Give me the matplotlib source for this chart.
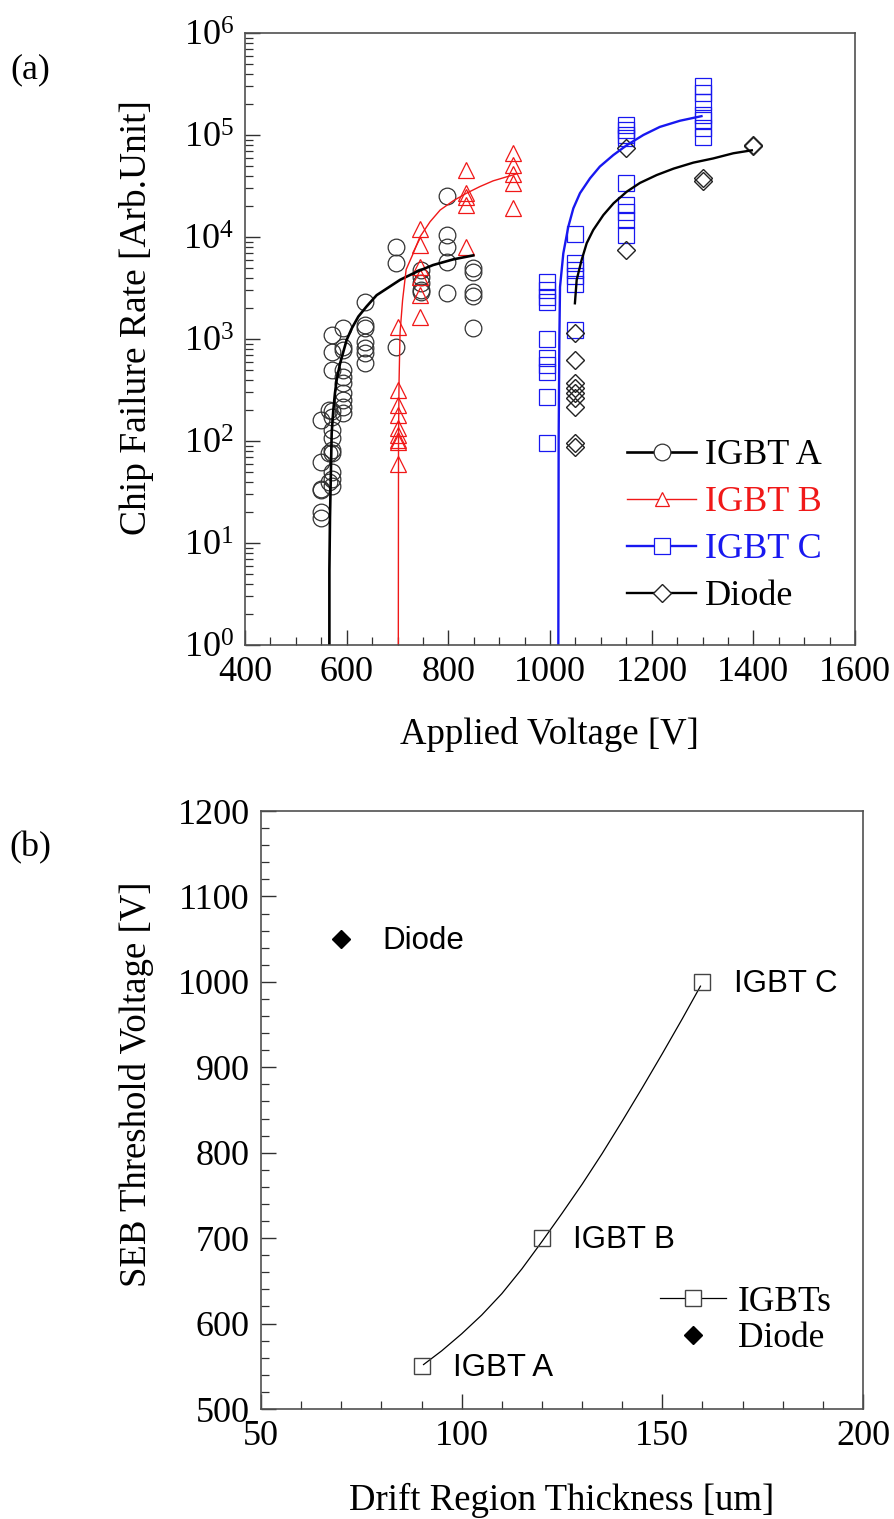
import math
import matplotlib
matplotlib.use('Agg')
import matplotlib.pyplot as plt
from matplotlib.lines import Line2D
from matplotlib.ticker import MultipleLocator, LogLocator, FuncFormatter, NullFormatter

matplotlib.rcParams['font.family'] = ['Liberation Serif', 'DejaVu Serif']
matplotlib.rcParams['mathtext.fontset'] = 'custom'
matplotlib.rcParams['mathtext.rm'] = 'Liberation Serif'
matplotlib.rcParams['font.size'] = 24

# ---- (a) measured failure rates ----
igbt_a_v = [550, 550, 550, 550, 550, 550,
            565, 565, 565,
            572, 572, 572, 572, 572, 572, 572, 572, 572, 572, 572, 572,
            593, 593, 593, 593, 593, 593, 593, 593, 593, 593,
            636, 636, 636, 636, 636, 636, 636,
            697, 697, 697,
            746, 746, 746, 746, 746,
            797, 797, 797, 797, 797,
            849, 849, 849, 849, 849]
igbt_a_rate = [160, 62, 34, 33, 20, 17.5,
               200, 76, 40,
               1090, 750, 500, 195, 173, 128, 106, 81, 76, 50, 42, 36,
               1270, 840, 780, 500, 425, 370, 295, 252, 217, 187,
               2320, 1370, 1270, 940, 810, 725, 580,
               8000, 5600, 840,
               4700, 4080, 3530, 3020, 2900,
               25300, 10500, 8000, 5720, 2800,
               5000, 4500, 2900, 2650, 1270]

igbt_b_v = [700, 700, 700, 700, 700, 700, 700, 700, 700,
            745, 745, 745, 745, 745, 745,
            835, 835, 835, 835, 835,
            928, 928, 928, 928, 928]
igbt_b_rate = [1320, 316, 225, 180, 133, 115, 102, 98, 60,
               11900, 8300, 5100, 4080, 2700, 1650,
               45400, 26800, 24800, 20600, 8000,
               66000, 50800, 41400, 33600, 19400]

igbt_c_v = [995, 995, 995, 995, 995, 995, 995, 995, 995, 995,
            1050, 1050, 1050, 1050, 1050, 1050,
            1150, 1150, 1150, 1150, 1150, 1150, 1150, 1150, 1150,
            1300, 1300, 1300, 1300, 1300, 1300, 1300]
igbt_c_rate = [3600, 3000, 2600, 2300, 1000, 650, 556, 476, 271, 95,
               10800, 5500, 4700, 4100, 3500, 1230,
               125000, 112000, 100000, 93000, 34000, 20600, 17700, 14700, 10500,
               300000, 256000, 210000, 157000, 140000, 116000, 96000]

diode_v = [1050, 1050, 1050, 1050, 1050, 1050, 1050, 1050, 1050,
           1150, 1150, 1300, 1300, 1400, 1400]
diode_rate = [1135, 620, 370, 330, 295, 263, 217, 95, 88,
              74000, 7500, 37600, 35600, 80000, 78000]

# fitted curves (points read along the drawn fits)
fit_a_v = [566, 566, 567.2, 570.5, 573.7, 577, 580.4, 587, 600, 610, 623, 639,
           659, 705, 738, 770, 810, 849]
fit_a_rate = [1, 5.4, 18, 119, 200, 295, 398, 575, 980, 1270, 1660, 2080,
              2690, 3800, 4570, 5310, 6040, 6600]
fit_b_v = [701.6, 702, 703, 705, 710, 717, 731, 744, 764, 784, 810, 836, 862, 888, 935]
fit_b_rate = [1, 100, 370, 1150, 2400, 4800, 6920, 10000, 14100, 18400, 22700,
              26900, 31200, 35500, 41700]
fit_c_v = [1016.4, 1017, 1018.4, 1019.7, 1026.2, 1036, 1045.9, 1059, 1078.7,
           1098, 1124.6, 1151, 1183.6, 1216, 1255.7, 1298]
fit_c_rate = [1, 100, 980, 3240, 6920, 12600, 19100, 26900, 37600,
              49000, 63600, 79400, 100000, 120000, 138000, 153000]
fit_d_v = [1049, 1052.5, 1062, 1072.2, 1085, 1104.9, 1125, 1150.9, 1177, 1209.9,
           1243, 1282, 1321, 1360.6, 1397]
fit_d_rate = [2240, 3800, 5900, 8700, 11700, 16400, 21400, 27800, 33900, 40500,
              46800, 53600, 58900, 66200, 70800]

# ---- (b) SEB threshold ----
igbt_thick = [90, 120, 160]
igbt_seb = [550, 700, 1000]
igbt_names = ['IGBT A', 'IGBT B', 'IGBT C']
diode_thick = [70]
diode_seb = [1050]
fit_thick = [90.5, 95, 100, 105, 110, 115, 120, 125, 130, 135, 140, 145, 150, 155, 159.5]
fit_seb = [552, 568, 588, 610, 635, 664, 696, 729, 763, 799, 837, 876, 916, 957, 995]

RED = '#f01818'
BLUE = '#1818f0'

fig = plt.figure(figsize=(8.94, 15.19), dpi=100)

# ================= (a) =================
ax1 = fig.add_axes([245/894, 1-645/1519, 610/894, 612/1519])
ms = 12
ax1.plot(igbt_a_v, igbt_a_rate, 'o', ms=ms, mfc='none', mec='#333333', mew=0.9)
ax1.plot(igbt_b_v, igbt_b_rate, '^', ms=ms, mfc='none', mec=RED, mew=0.9)
ax1.plot(igbt_c_v, igbt_c_rate, 's', ms=ms*0.95, mfc='none', mec=BLUE, mew=0.9)
ax1.plot(diode_v, diode_rate, 'D', ms=ms*0.75, mfc='none', mec='#222222', mew=1.0)

ax1.plot(fit_a_v, fit_a_rate, '-', color='black', lw=1.9)
ax1.plot(fit_b_v, fit_b_rate, '-', color=RED, lw=1.0)
ax1.plot(fit_c_v, fit_c_rate, '-', color=BLUE, lw=1.7)
ax1.plot(fit_d_v, fit_d_rate, '-', color='black', lw=1.7)

ax1.set_yscale('log')
ax1.set_xlim(400, 1600)
ax1.set_ylim(1, 1e6)
ax1.xaxis.set_major_locator(MultipleLocator(200))
ax1.xaxis.set_minor_locator(MultipleLocator(50))
ax1.yaxis.set_major_locator(LogLocator(base=10, numticks=10))
ax1.yaxis.set_minor_locator(LogLocator(base=10, subs=range(2, 10), numticks=10))
ax1.yaxis.set_minor_formatter(NullFormatter())
ax1.yaxis.set_major_formatter(FuncFormatter(lambda v, p: r'$\mathregular{10^{%d}}$' % round(math.log10(v))))

handles = [
    Line2D([], [], color='black', lw=1.9, marker='o', ms=ms, mfc='white', mec='#333333', mew=0.9),
    Line2D([], [], color=RED, lw=1.0, marker='^', ms=ms*0.8, mfc='white', mec=RED, mew=0.9),
    Line2D([], [], color=BLUE, lw=1.7, marker='s', ms=ms*0.95, mfc='white', mec=BLUE, mew=0.9),
    Line2D([], [], color='black', lw=1.7, marker='D', ms=ms*0.75, mfc='white', mec='#222222', mew=1.0),
]
ax1.legend(handles, ['IGBT A', 'IGBT B', 'IGBT C', 'Diode'], loc='lower right',
           bbox_to_anchor=(0.975, 0.022), frameon=False, fontsize=26,
           handlelength=1.9, handletextpad=0.25, labelspacing=0.38, borderpad=0,
           labelcolor=['black', RED, BLUE, 'black'])

fig.text(137/894, 1-318/1519, 'Chip Failure Rate [Arb.Unit]', rotation=90,
         ha='center', va='center', fontsize=27)
fig.text(549/894, 1-735/1519, 'Applied Voltage [V]', ha='center', va='center', fontsize=26.5)
fig.text(30/894, 1-70/1519, '(a)', ha='center', va='center', fontsize=26)

# ================= (b) =================
ax2 = fig.add_axes([261/894, 1-1409/1519, 602/894, 598/1519])
ax2.plot(fit_thick, fit_seb, '-', color='black', lw=0.9)
ax2.plot(igbt_thick, igbt_seb, 's', ms=11, mfc='none', mec='#444444', mew=1.0)
ax2.plot(diode_thick, diode_seb, 'D', ms=9, color='black')

for t, s, n in zip(igbt_thick, igbt_seb, igbt_names):
    ax2.text(t + 7.8, s - 2, n, family=['Liberation Sans', 'DejaVu Sans'],
             fontsize=22.5, ha='left', va='center')
ax2.text(diode_thick[0] + 10.3, diode_seb[0] - 2, 'Diode', family=['Liberation Sans', 'DejaVu Sans'],
         fontsize=22.5, ha='left', va='center')

ax2.set_xlim(50, 200)
ax2.set_ylim(500, 1200)
ax2.xaxis.set_major_locator(MultipleLocator(50))
ax2.xaxis.set_minor_locator(MultipleLocator(10))
ax2.yaxis.set_major_locator(MultipleLocator(100))
ax2.yaxis.set_minor_locator(MultipleLocator(20))

h2 = [Line2D([], [], color='black', lw=0.9, marker='s', ms=11, mfc='white', mec='#444444', mew=1.0),
      Line2D([], [], color='none', marker='D', ms=9, mfc='black', mec='black')]
ax2.legend(h2, ['IGBTs', 'Diode'], loc='lower right', bbox_to_anchor=(0.978, 0.06),
           frameon=False, fontsize=25.5, handlelength=1.85, handletextpad=0.35,
           labelspacing=0.1, borderpad=0)

fig.text(137/894, 1-1084/1519, 'SEB Threshold Voltage [V]', rotation=90,
         ha='center', va='center', fontsize=26.5)
fig.text(562/894, 1-1500/1519, 'Drift Region Thickness [um]', ha='center', va='center', fontsize=26.5)
fig.text(30/894, 1-848/1519, '(b)', ha='center', va='center', fontsize=26)

for ax in (ax1, ax2):
    for sp in ax.spines.values():
        sp.set_color('#505050')
        sp.set_linewidth(1.2)
    ax.tick_params(which='both', direction='in', top=False, right=False, color='#303030',
                   labelsize=26)
    ax.tick_params(which='major', length=11, width=1.0, pad=8)
    ax.tick_params(which='minor', length=6, width=0.9)

fig.savefig('out.png', dpi=100)
